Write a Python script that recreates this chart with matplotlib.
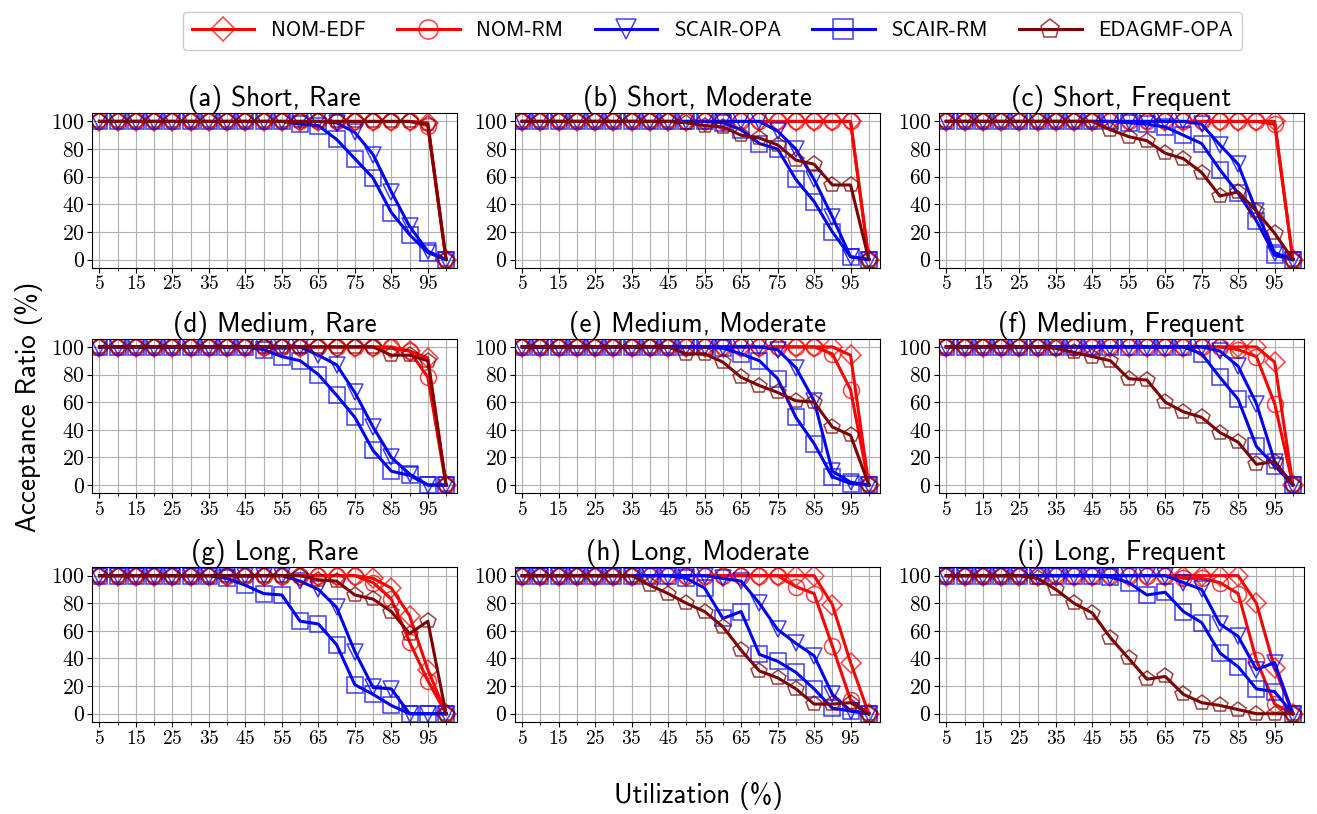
import matplotlib
matplotlib.use("Agg")
import matplotlib.pyplot as plt
from matplotlib.colors import to_rgba
from matplotlib.ticker import MultipleLocator

plt.rcParams['font.family'] = ['cmss10', 'DejaVu Sans']
plt.rcParams['axes.formatter.use_mathtext'] = True
plt.rcParams['mathtext.fontset'] = 'cm'

util = [5, 10, 15, 20, 25, 30, 35, 40, 45, 50, 55, 60, 65, 70, 75, 80, 85, 90, 95, 100]

titles = ['(a) Short, Rare', '(b) Short, Moderate', '(c) Short, Frequent',
          '(d) Medium, Rare', '(e) Medium, Moderate', '(f) Medium, Frequent',
          '(g) Long, Rare', '(h) Long, Moderate', '(i) Long, Frequent']

methods = ['NOM-EDF', 'NOM-RM', 'SCAIR-OPA', 'SCAIR-RM', 'EDAGMF-OPA']
colors = ['red', 'red', 'blue', 'blue', '#7f0000']
markers = ['D', 'o', 'v', 's', 'p']

# acceptance ratio (%) per panel, one list per method (order of `methods`)
short_rare = [
    [100]*18 + [99, 0],
    [100]*18 + [97, 0],
    [100]*13 + [99, 92, 76, 49, 24, 6, 0],
    [100]*11 + [98, 97, 87, 73, 59, 34, 18, 5, 0],
    [100]*18 + [98, 0],
]
short_moderate = [
    [100]*19 + [0],
    [100]*19 + [0],
    [100]*14 + [93, 80, 58, 31, 2, 0],
    [100]*11 + [99, 94, 84, 80, 58, 42, 20, 2, 0],
    [100]*9 + [99, 97, 96, 90, 88, 83, 72, 69, 54, 54, 0],
]
short_frequent = [
    [100]*19 + [0],
    [100]*18 + [98, 0],
    [100]*14 + [98, 83, 69, 35, 5, 0],
    [100]*10 + [99, 98, 96, 90, 84, 65, 48, 28, 3, 0],
    [100]*9 + [94, 89, 86, 77, 73, 63, 46, 49, 35, 19, 0],
]
medium_rare = [
    [100]*16 + [99, 97, 92, 0],
    [100]*17 + [97, 78, 0],
    [100]*12 + [94, 87, 67, 42, 20, 8, 0, 0],
    [100]*9 + [98, 93, 90, 80, 65, 49, 25, 10, 7, 0, 0],
    [100]*16 + [94, 94, 90, 0],
]
medium_moderate = [
    [100]*18 + [94, 0],
    [100]*17 + [95, 69, 0],
    [100]*14 + [98, 85, 61, 10, 2, 0],
    [100]*11 + [99, 95, 90, 77, 49, 30, 6, 1, 0],
    [100]*9 + [95, 95, 89, 78, 72, 67, 61, 60, 42, 36, 0],
]
medium_frequent = [
    [100]*17 + [100, 89, 0],
    [100]*16 + [98, 93, 59, 0],
    [100]*15 + [97, 86, 59, 17, 0],
    [100]*14 + [95, 78, 62, 28, 14, 0],
    [100]*6 + [99, 96, 93, 90, 77, 76, 60, 53, 49, 38, 31, 15, 17, 0],
]
long_rare = [
    [100]*15 + [98, 91, 71, 32, 0],
    [100]*15 + [95, 83, 52, 24, 0],
    [100]*11 + [96, 90, 77, 45, 19, 18, 0, 0, 0],
    [100]*7 + [98, 93, 87, 86, 67, 65, 50, 21, 14, 6, 0, 0, 0],
    [100]*12 + [97, 96, 86, 83, 74, 58, 67, 0],
]
long_moderate = [
    [100]*17 + [79, 37, 0],
    [100]*15 + [92, 87, 49, 10, 0],
    [100]*11 + [98, 96, 80, 61, 51, 42, 14, 2, 0],
    [100]*9 + [98, 91, 69, 74, 43, 38, 30, 18, 4, 2, 0],
    [100]*7 + [93, 87, 80, 74, 63, 46, 31, 26, 18, 7, 7, 8, 0],
]
long_frequent = [
    [100]*17 + [80, 33, 0],
    [100]*13 + [98, 98, 95, 87, 39, 7, 0],
    [100]*13 + [95, 90, 65, 56, 32, 37, 0],
    [100]*9 + [99, 95, 86, 88, 74, 66, 44, 34, 18, 16, 0],
    [100]*5 + [98, 90, 80, 73, 55, 40, 25, 27, 14, 8, 6, 3, 0, 0, 0],
]

panels = [short_rare, short_moderate, short_frequent,
          medium_rare, medium_moderate, medium_frequent,
          long_rare, long_moderate, long_frequent]

fig = plt.figure(figsize=(13.17, 8.14), dpi=100)

lefts = [0.070, 0.391, 0.713]
bottoms = [0.671, 0.394, 0.113]
w, h = 0.277, 0.190

handles = []
for k, (data, title) in enumerate(zip(panels, titles)):
    ax = fig.add_axes([lefts[k % 3], bottoms[k // 3], w, h])
    for name, vals, c, m in zip(methods, data, colors, markers):
        ms = 10 if m == 'D' else 11.5
        ln, = ax.plot(util, vals, color=c, lw=2.2, marker=m, markersize=ms,
                      markerfacecolor='none', markeredgecolor=to_rgba(c, 0.75),
                      markeredgewidth=1.1, label=name)
        if k == 0:
            handles.append(ln)
    ax.set_xlim(3, 103)
    ax.set_ylim(-6, 106)
    ax.xaxis.set_major_locator(MultipleLocator(10, offset=5))
    ax.xaxis.set_minor_locator(MultipleLocator(10))
    ax.yaxis.set_major_locator(MultipleLocator(20))
    ax.tick_params(axis='x', labelsize=14, pad=2)
    ax.tick_params(axis='y', labelsize=15.5, pad=2)
    for lab in ax.get_xticklabels() + ax.get_yticklabels():
        lab.set_fontfamily('cmr10')
    ax.grid(True, which='both', color='#b0b0b0', lw=0.8)
    ax.set_axisbelow(True)
    ax.set_title(title, fontsize=19.5, pad=3)

fig.legend(handles, methods, loc='upper center', bbox_to_anchor=(0.541, 0.998),
           ncol=5, fontsize=15, handlelength=3.0, columnspacing=1.5,
           borderpad=0.45, framealpha=1, markerscale=1.2)
fig.text(0.022, 0.50, 'Acceptance Ratio (%)', rotation=90, fontsize=19.5,
         ha='center', va='center')
fig.text(0.53, 0.022, 'Utilization (%)', fontsize=19.5, ha='center', va='center')

fig.savefig('out.png', dpi=100)
